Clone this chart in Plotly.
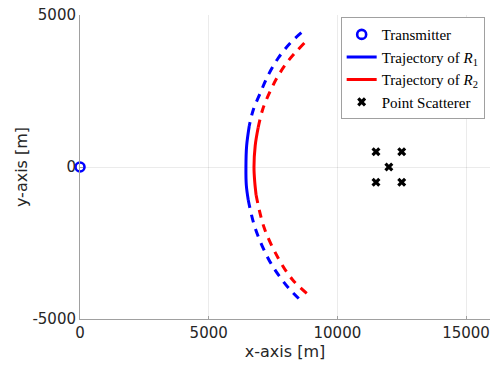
import plotly.graph_objects as go

# transmitter position [m]
tx_x = [0]
tx_y = [0]

# point scatterers [m]
scat_x = [11500, 12500, 12000, 11500, 12500]
scat_y = [500, 500, 0, -500, -500]

# trajectory of R1, split into dashed / solid / dashed parts
r1_top_x = [8600, 8171, 7704, 7315, 7004, 6731, 6576]
r1_top_y = [4417, 4079, 3585, 3026, 2434, 1875, 1349]
r1_mid_x = [6576, 6475, 6447, 6462, 6537]
r1_mid_y = [1349, 700, 0, -600, -1085]
r1_bot_x = [6537, 6802, 7307, 7710, 8124, 8624]
r1_bot_y = [-1085, -2000, -3000, -3550, -4000, -4430]

# trajectory of R2
r2_top_x = [8716, 8100, 7700, 7395, 7100, 6925]
r2_top_y = [4079, 3500, 3000, 2500, 1900, 1305]
r2_mid_x = [6925, 6807, 6760, 6790, 6842]
r2_mid_y = [1305, 700, 0, -500, -921]
r2_bot_x = [6842, 7156, 7704, 8250, 8836]
r2_bot_y = [-921, -2000, -3000, -3700, -4177]

# tick labels
x_ticks = [0, 5000, 10000, 15000]
x_labels = ['0', '5000', '10000', '15000']
y_ticks = [-5000, 0, 5000]
y_labels = ['-5000', '0', '5000']

BLUE = 'rgb(0,0,255)'
RED = 'rgb(255,0,0)'
DASH = '8px,7px'

fig = go.Figure()

fig.add_trace(go.Scatter(
    x=tx_x, y=tx_y, mode='markers', name='Transmitter', cliponaxis=False,
    marker=dict(symbol='circle-open', size=9, color=BLUE, line=dict(width=2.6))
))

# R1
fig.add_trace(go.Scatter(
    x=r1_mid_x, y=r1_mid_y, mode='lines', line_shape='spline',
    name='Trajectory of <i>R</i><sub>1</sub>',
    line=dict(color=BLUE, width=3)
))
fig.add_trace(go.Scatter(
    x=r1_top_x, y=r1_top_y, mode='lines', line_shape='spline', showlegend=False,
    line=dict(color=BLUE, width=3, dash=DASH)
))
fig.add_trace(go.Scatter(
    x=r1_bot_x, y=r1_bot_y, mode='lines', line_shape='spline', showlegend=False,
    line=dict(color=BLUE, width=3, dash=DASH)
))

# R2
fig.add_trace(go.Scatter(
    x=r2_mid_x, y=r2_mid_y, mode='lines', line_shape='spline',
    name='Trajectory of <i>R</i><sub>2</sub>',
    line=dict(color=RED, width=3)
))
fig.add_trace(go.Scatter(
    x=r2_top_x, y=r2_top_y, mode='lines', line_shape='spline', showlegend=False,
    line=dict(color=RED, width=3, dash=DASH)
))
fig.add_trace(go.Scatter(
    x=r2_bot_x, y=r2_bot_y, mode='lines', line_shape='spline', showlegend=False,
    line=dict(color=RED, width=3, dash=DASH)
))

fig.add_trace(go.Scatter(
    x=scat_x, y=scat_y, mode='markers', name='Point Scatterer',
    marker=dict(symbol='x', size=8, color='black')
))

axis_style = dict(
    showgrid=True, gridcolor='rgba(0,0,0,0.08)', gridwidth=1,
    zeroline=False, showline=True, linecolor='#a0a0a0', linewidth=1,
    ticks='inside', ticklen=3, tickcolor='#a0a0a0', automargin=False,
    tickfont=dict(family='DejaVu Sans', size=15, color='#262626'),
    title_font=dict(family='DejaVu Sans', size=16, color='#262626'),
)

fig.update_layout(
    width=490, height=367,
    margin=dict(l=80, r=0, t=15, b=48),
    plot_bgcolor='white', paper_bgcolor='white',
    xaxis=dict(range=[0, 15930], tickvals=x_ticks, ticktext=x_labels,
               title=dict(text='x-axis [m]', standoff=0), **axis_style),
    yaxis=dict(range=[-5000, 5000], tickvals=y_ticks, ticktext=y_labels,
               title=dict(text='y-axis [m]', standoff=0), **axis_style),
    legend=dict(
        x=0.987, y=0.993, xanchor='right', yanchor='top',
        bgcolor='white', bordercolor='#a0a0a0', borderwidth=1,
        font=dict(family='Liberation Serif', size=15, color='black'),
        itemwidth=30, tracegroupgap=0,
    ),
    showlegend=True,
)

# drop the page's default body margin so the figure sits at the window corner
fig.write_html("out.html", config={'displayModeBar': False},
               post_script="document.body.style.margin='0';")
